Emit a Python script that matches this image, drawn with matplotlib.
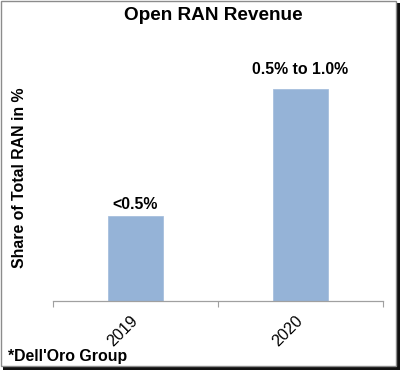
import matplotlib
matplotlib.use("Agg")
import matplotlib.pyplot as plt
from matplotlib.patches import Rectangle
from matplotlib.transforms import ScaledTranslation

plt.rcParams['font.family'] = ['Liberation Sans', 'DejaVu Sans']

# data (share of total RAN, %)
years = ['2019', '2020']
share = [0.4, 1.0]
bar_labels = ['<0.5%', '0.5% to 1.0%']
label_offsets = [3, 9]   # points above bar top

fig = plt.figure(figsize=(4.0, 3.7), dpi=100)
fig.patch.set_facecolor('white')

# frame with drop shadow
W, H = 400.0, 370.0
fig.patches.append(Rectangle((3 / W, 0), 397 / W, 4 / H, transform=fig.transFigure,
                             facecolor='#111111', edgecolor='none', zorder=0))
fig.patches.append(Rectangle((396 / W, 0), 4 / W, 367 / H, transform=fig.transFigure,
                             facecolor='#111111', edgecolor='none', zorder=0))
fig.patches.append(Rectangle((0.5 / W, 4 / H), 395.5 / W, 365.5 / H, transform=fig.transFigure,
                             facecolor='none', edgecolor='#8c8c8c', linewidth=1.0, zorder=0))

ax = fig.add_axes([53 / W, 1 - 301 / H, 330 / W, 241 / H])
x = list(range(len(years)))
ax.bar(x, share, width=1 / 3, color='#95B3D7', edgecolor='#a7c0de', linewidth=0.6)

for i in range(len(years)):
    ax.annotate(bar_labels[i], (x[i], share[i]), xytext=(0, label_offsets[i]),
                textcoords='offset points', ha='center', va='bottom',
                fontsize=11.4, fontweight='bold')

ax.set_xlim(-0.5, len(years) - 0.5)
ax.set_ylim(0, 1.137)
ax.set_yticks([])

ax.set_xticks(x)
ax.set_xticklabels(years, rotation=45, ha='right', fontsize=11.6)
ax.tick_params(axis='x', which='major', length=0, pad=9)
shift = ScaledTranslation(5 / 100, 0, fig.dpi_scale_trans)
for lbl in ax.get_xticklabels():
    lbl.set_transform(lbl.get_transform() + shift)
ax.set_xticks([-0.5, 0.5, 1.5], minor=True)
ax.tick_params(axis='x', which='minor', length=4, width=0.8, color='#a0a0a0', direction='out')

for s in ['top', 'right', 'left']:
    ax.spines[s].set_visible(False)
ax.spines['bottom'].set_color('#a0a0a0')
ax.spines['bottom'].set_linewidth(0.9)

fig.text(213 / W, 1 - 16 / H, 'Open RAN Revenue', ha='center', va='center',
         fontsize=13.7, fontweight='bold')
fig.text(20 / W, 1 - 178 / H, 'Share of Total RAN in %', rotation=90,
         ha='center', va='center', fontsize=11.4, fontweight='bold')
fig.text(8 / W, 1 - 361 / H, "*Dell'Oro Group", ha='left', va='baseline',
         fontsize=11.4, fontweight='bold')

fig.savefig('out.png', dpi=100)
